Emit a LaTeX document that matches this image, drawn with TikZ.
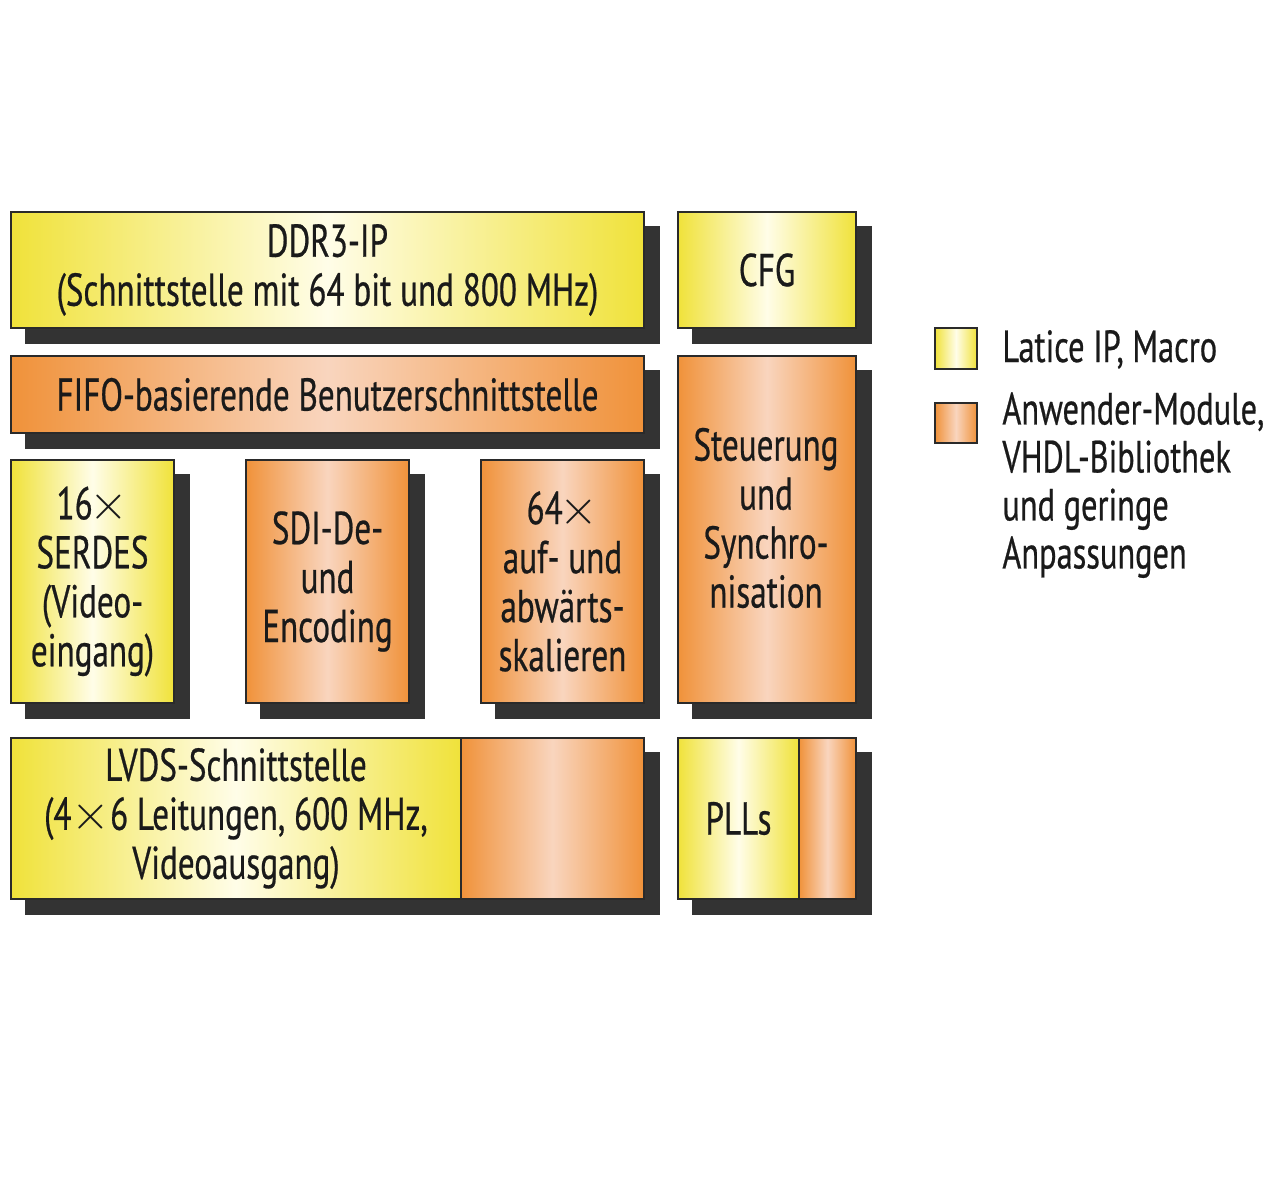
\documentclass[tikz,border=0pt]{standalone}
\usepackage{fontspec}
\setmainfont[FakeStretch=0.72,FakeBold=0.5]{PT Sans}
\usetikzlibrary{backgrounds}
\definecolor{yedge}{HTML}{F0E23A}
\definecolor{ymid}{HTML}{FFFDE8}
\definecolor{oedge}{HTML}{F0923A}
\definecolor{omid}{HTML}{F9D5BE}
\definecolor{shadowgray}{HTML}{333333}
\definecolor{frame}{HTML}{2A2A2A}
\definecolor{ink}{HTML}{1A1A1A}
\newcommand{\mult}{\ensuremath{\times}}
\tikzset{
  blk/.style={draw=frame, line width=1pt, rectangle, inner sep=0pt, anchor=north west,
    align=center, text=ink, font=\fontsize{23}{24.5}\selectfont},
  ybox/.style={blk, left color=yedge, right color=yedge, middle color=ymid},
  obox/.style={blk, left color=oedge, right color=oedge, middle color=omid},
  shade/.style={fill=shadowgray},
  legtext/.style={inner sep=0pt, align=left, text=ink, font=\fontsize{22.5}{24}\selectfont},
}
\newcommand{\dropsh}[2]{\fill[shade] ([shift={(7.5pt,-7.5pt)}]#1.south west) rectangle ([shift={(7.5pt,-7.5pt)}]#2.north east);}
\begin{document}
\begin{tikzpicture}[x=0.5pt,y=-0.5pt]
\useasboundingbox (0,0) rectangle (1280,1190);
% boxes
\node[ybox, minimum width=316.5pt, minimum height=58pt] (ddr) at (10,211)
  {DDR3-IP\\(Schnittstelle mit 64 bit und 800 MHz)};
\node[ybox, minimum width=89pt, minimum height=58pt] (cfg) at (677,211) {CFG};
\node[obox, minimum width=316.5pt, minimum height=38.5pt] (fifo) at (10,355)
  {FIFO-basierende Benutzerschnittstelle};
\node[obox, minimum width=89pt, minimum height=173.5pt] (steu) at (677,355) {};
\node[blk, draw=none, anchor=center] (steutxt) at (766,518)
  {Steuerung\\und\\Synchro-\\nisation};
\node[ybox, minimum width=81.5pt, minimum height=121.5pt] (serdes) at (10,459)
  {16\kern-1.5pt\mult\\SERDES\\(Video-\\eingang)};
\node[obox, minimum width=81.5pt, minimum height=121.5pt] (sdi) at (245,459)
  {SDI-De-\\und\\Encoding};
\node[obox, minimum width=81.5pt, minimum height=121.5pt] (scal) at (480,459)
  {64\kern-1.5pt\mult\\auf- und\\abwärts-\\skalieren};
\node[ybox, minimum width=225pt, minimum height=80.5pt] (lvds) at (10,737)
  {LVDS-Schnittstelle\\(4\mult6 Leitungen, 600 MHz,\\Videoausgang)};
\node[obox, minimum width=91.5pt, minimum height=80.5pt] (lvdso) at (460,737) {};
\node[ybox, minimum width=60.5pt, minimum height=80.5pt] (pll) at (677,737) {PLLs};
\node[obox, minimum width=28.5pt, minimum height=80.5pt] (pllo) at (798,737) {};
% legend
\node[ybox, minimum width=21pt, minimum height=20.5pt] (leg1) at (934,327) {};
\node[obox, minimum width=21pt, minimum height=20pt] (leg2) at (934,402) {};
\node[legtext, anchor=base west] (leg1t) at (1002,362) {Latice IP, Macro};
\node[legtext, anchor=north west] (leg2t) at (1002,392)
  {Anwender-Module,\\VHDL-Bibliothek\\und geringe\\Anpassungen};
% shadows
\begin{scope}[on background layer]
\fill[white] (0,0) rectangle (1280,1190);
\dropsh{ddr}{ddr}
\dropsh{cfg}{cfg}
\dropsh{fifo}{fifo}
\dropsh{steu}{steu}
\dropsh{serdes}{serdes}
\dropsh{sdi}{sdi}
\dropsh{scal}{scal}
\dropsh{lvds}{lvdso}
\dropsh{pll}{pllo}
\end{scope}
\end{tikzpicture}
\end{document}
